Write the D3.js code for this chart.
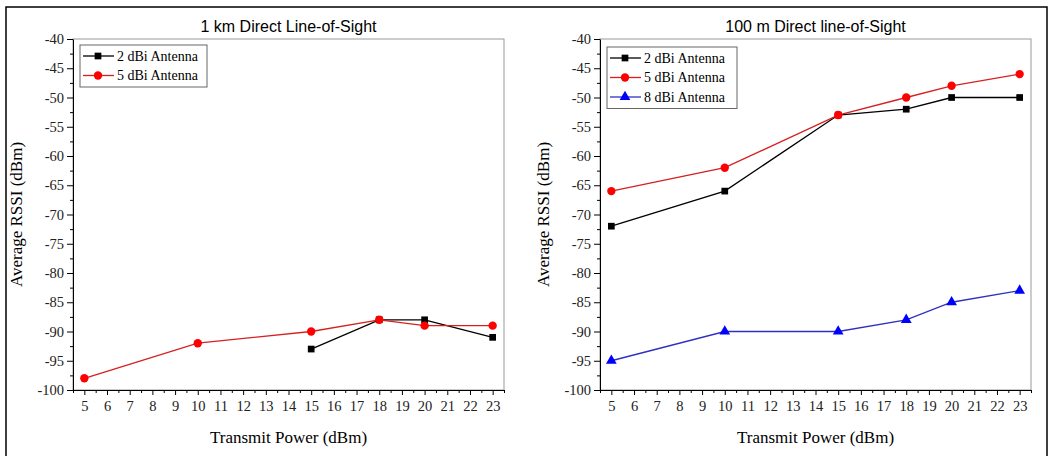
<!DOCTYPE html>
<html>
<head>
<meta charset="utf-8">
<script src="https://cdn.jsdelivr.net/npm/d3@7"></script>
<style>
  body { margin: 0; background: #fff; }
  svg { display: block; }
  .domain, .tick line { stroke: #000; }
</style>
</head>
<body>
<div id="chart"></div>
<script>
// transmit power steps (x values)
var power = [5, 10, 15, 18, 20, 23];
var xTicks = [5, 6, 7, 8, 9, 10, 11, 12, 13, 14, 15, 16, 17, 18, 19, 20, 21, 22, 23];
var yTicks = [-40, -45, -50, -55, -60, -65, -70, -75, -80, -85, -90, -95, -100];

// 1 km panel
var km_power2 = [15, 18, 20, 23];
var km_rssi2 = [-93, -88, -88, -91];
var km_rssi5 = [-98, -92, -90, -88, -89, -89];

// 100 m panel
var m_rssi2 = [-72, -66, -53, -52, -50, -50];
var m_rssi5 = [-66, -62, -53, -50, -48, -46];
var m_rssi8 = [-95, -90, -90, -88, -85, -83];

var width = 1049;
var height = 456;
var serif = '"Liberation Serif", "Times New Roman", serif';

var svg = d3.select('#chart').append('svg')
    .attr('width', width)
    .attr('height', height);

// outer frame
svg.append('rect')
    .attr('x', 6).attr('y', 7)
    .attr('width', 1041).attr('height', 470)
    .attr('fill', 'none')
    .attr('stroke', '#000')
    .attr('stroke-width', 1.5);

function zip(xs, ys) {
    return xs.map(function(x, i) { return { x: x, y: ys[i] }; });
}

function styleTicks(sel) {
    sel.attr('font-family', serif).attr('font-size', 14.5);
    sel.selectAll('text')
        .style('font-family', serif)
        .style('font-size', '14.5px')
        .style('fill', '#222');
}

function drawPanel(opts) {
    var x = d3.scaleLinear().domain([4.5, 23.5]).range([opts.left, opts.left + 431]);
    var y = d3.scaleLinear().domain([-100, -40]).range([390, 39]);
    var g = svg.append('g');

    // plot box (top / right in gray)
    g.append('rect')
        .attr('x', x(4.5)).attr('y', y(-40))
        .attr('width', x(23.5) - x(4.5)).attr('height', y(-100) - y(-40))
        .attr('fill', 'none').attr('stroke', '#999').attr('stroke-width', 1);

    // minor ticks
    var minorX = d3.range(4.5, 23.6, 1);
    g.append('g').attr('transform', 'translate(0,390)')
        .call(d3.axisBottom(x).tickValues(minorX).tickSize(3).tickFormat(''))
        .select('.domain').remove();
    var minorY = d3.range(-97.5, -40, 5);
    g.append('g').attr('transform', 'translate(' + x(4.5) + ',0)')
        .call(d3.axisLeft(y).tickValues(minorY).tickSize(3).tickFormat(''))
        .select('.domain').remove();

    g.append('g').attr('transform', 'translate(0,390)')
        .call(d3.axisBottom(x).tickValues(xTicks).tickSize(5).tickSizeOuter(0).tickPadding(6).tickFormat(String))
        .call(styleTicks);
    g.append('g').attr('transform', 'translate(' + x(4.5) + ',0)')
        .call(d3.axisLeft(y).tickValues(yTicks).tickSize(6).tickSizeOuter(0).tickPadding(3).tickFormat(String))
        .call(styleTicks);

    // titles
    var cx = (x(4.5) + x(23.5)) / 2;
    g.append('text').attr('x', cx).attr('y', 32).attr('text-anchor', 'middle')
        .style('font-family', '"Liberation Sans", Arial, sans-serif').style('font-size', '16px')
        .text(opts.title);
    g.append('text').attr('x', cx).attr('y', 443).attr('text-anchor', 'middle')
        .style('font-family', serif).style('font-size', '17px')
        .text('Transmit Power (dBm)');
    g.append('text')
        .attr('transform', 'translate(' + (opts.left - 51) + ',' + y(-70) + ') rotate(-90)')
        .attr('text-anchor', 'middle')
        .style('font-family', serif).style('font-size', '17px')
        .text('Average RSSI (dBm)');

    var line = d3.line().x(function(d) { return x(d.x); }).y(function(d) { return y(d.y); });

    opts.series.forEach(function(s) {
        g.append('path').datum(s.data)
            .attr('d', line).attr('fill', 'none')
            .attr('stroke', s.color).attr('stroke-width', 1.3);
        g.selectAll(null).data(s.data).enter()
            .append('path')
            .attr('transform', function(d) { return 'translate(' + x(d.x) + ',' + y(d.y) + ')'; })
            .attr('d', d3.symbol().type(s.shape).size(s.size))
            .attr('fill', s.fill);
    });

    // legend
    var lx = x(4.5) + 7, ly = y(-40) + opts.legTop;
    var rowH = 19.5;
    g.append('rect')
        .attr('x', lx).attr('y', ly)
        .attr('width', opts.legW).attr('height', opts.series.length * rowH + 3)
        .attr('fill', '#fff').attr('stroke', '#666').attr('stroke-width', 1);
    opts.series.forEach(function(s, i) {
        var yy = ly + 11 + i * rowH;
        g.append('line').attr('x1', lx + 3).attr('x2', lx + 34)
            .attr('y1', yy).attr('y2', yy)
            .attr('stroke', s.color).attr('stroke-width', 1.3);
        g.append('path')
            .attr('transform', 'translate(' + (lx + 18) + ',' + yy + ')')
            .attr('d', d3.symbol().type(s.shape).size(s.size))
            .attr('fill', s.fill);
        g.append('text').attr('x', lx + 37).attr('y', yy + 4.5)
            .style('font-family', serif).style('font-size', '14px')
            .text(s.name);
    });
}

drawPanel({
    left: 73,
    title: '1 km Direct Line-of-Sight',
    legTop: 6, legW: 127,
    series: [
        { name: '2 dBi Antenna', color: '#000', fill: '#000', shape: d3.symbolSquare, size: 45, data: zip(km_power2, km_rssi2) },
        { name: '5 dBi Antenna', color: '#d62020', fill: '#ff0000', shape: d3.symbolCircle, size: 55, data: zip(power, km_rssi5) }
    ]
});

drawPanel({
    left: 600,
    title: '100 m Direct line-of-Sight',
    legTop: 8, legW: 130,
    series: [
        { name: '2 dBi Antenna', color: '#000', fill: '#000', shape: d3.symbolSquare, size: 45, data: zip(power, m_rssi2) },
        { name: '5 dBi Antenna', color: '#d62020', fill: '#ff0000', shape: d3.symbolCircle, size: 55, data: zip(power, m_rssi5) },
        { name: '8 dBi Antenna', color: '#3030c0', fill: '#0000ff', shape: d3.symbolTriangle, size: 50, data: zip(power, m_rssi8) }
    ]
});
</script>
</body>
</html>
